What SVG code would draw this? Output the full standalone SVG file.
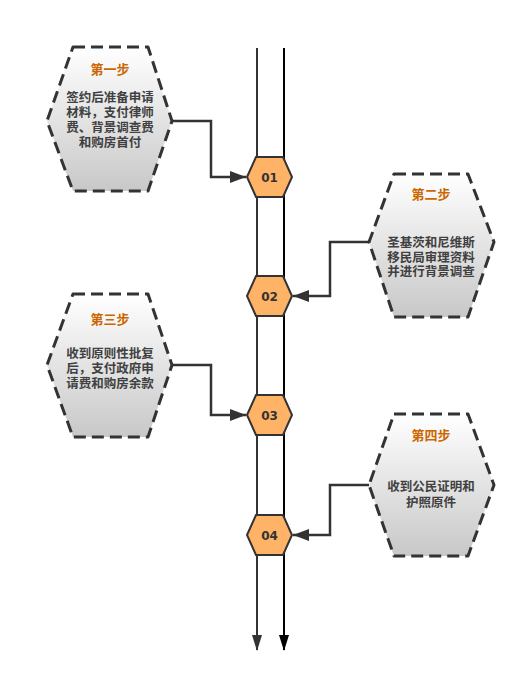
<svg xmlns="http://www.w3.org/2000/svg" width="527" height="679" viewBox="0 0 527 679">
<defs>
<linearGradient id="g" x1="0" y1="0" x2="0" y2="1">
<stop offset="0" stop-color="#ffffff"/>
<stop offset="1" stop-color="#c8c8c8"/>
</linearGradient>
<marker id="ah" markerWidth="16" markerHeight="12" refX="16" refY="6" orient="auto" markerUnits="userSpaceOnUse">
<path d="M0,0 L16,6 L0,12 Z" fill="#333"/>
</marker>
</defs>
<style>
.box{fill:url(#g);stroke:#333;stroke-width:3;stroke-dasharray:12 6;stroke-linejoin:round}
.hex{fill:#ffb366;stroke:#333;stroke-width:2}
.title{font-family:"Noto Sans CJK SC","Noto Sans",sans-serif;font-weight:bold;font-size:13px;fill:#cc6600;text-anchor:middle}
.body{font-family:"Noto Sans CJK SC","Noto Sans",sans-serif;font-weight:bold;font-size:12.5px;fill:#404040;text-anchor:middle}
.num{font-family:"DejaVu Sans","Noto Sans",sans-serif;font-weight:bold;font-size:12px;fill:#333;text-anchor:middle}
.con{fill:none;stroke:#333;stroke-width:2.5}
</style>
<g id="connectors">
<line x1="257" y1="48" x2="257" y2="650" stroke="#333" stroke-width="2"/>
<line x1="284" y1="48" x2="284" y2="650" stroke="#000" stroke-width="2"/>
<path d="M252,635 L257,651 L262,635 Z" fill="#333"/>
<path d="M279,635 L284,651 L289,635 Z" fill="#000"/>
<path class="con" d="M172,121 H211 V177 H246" marker-end="url(#ah)"/>
<path class="con" d="M369,242 H330 V296 H293" marker-end="url(#ah)"/>
<path class="con" d="M172,365 H211 V415 H246" marker-end="url(#ah)"/>
<path class="con" d="M369,485 H330 V535 H293" marker-end="url(#ah)"/>
</g>
<g id="step1">
<polygon class="box" points="73,47 148,47 172,121 148,191 73,191 47,121"/>
<text class="title" x="110" y="74">第一步</text>
<text class="body"><tspan x="110" y="102">签约后准备申请</tspan><tspan x="110" y="117">材料，支付律师</tspan><tspan x="110" y="132">费、背景调查费</tspan><tspan x="110" y="147">和购房首付</tspan></text>
</g>
<g id="step2">
<polygon class="box" points="394,174 468,174 494,242 468,317 394,317 369,242"/>
<text class="title" x="431" y="199">第二步</text>
<text class="body"><tspan x="431" y="247">圣基茨和尼维斯</tspan><tspan x="431" y="262">移民局审理资料</tspan><tspan x="431" y="276">并进行背景调查</tspan></text>
</g>
<g id="step3">
<polygon class="box" points="73,294 148,294 172,365 148,437 73,437 47,365"/>
<text class="title" x="110" y="324">第三步</text>
<text class="body"><tspan x="110" y="358">收到原则性批复</tspan><tspan x="110" y="373">后，支付政府申</tspan><tspan x="110" y="388">请费和购房余款</tspan></text>
</g>
<g id="step4">
<polygon class="box" points="394,414 468,414 494,485 468,556 394,556 369,485"/>
<text class="title" x="431" y="440">第四步</text>
<text class="body"><tspan x="431" y="491">收到公民证明和</tspan><tspan x="431" y="507">护照原件</tspan></text>
</g>
<g id="n01">
<polygon class="hex" points="247,177 256,157 283,157 292,177 283,197 256,197"/>
<text class="num" x="269.5" y="182">01</text>
</g>
<g id="n02">
<polygon class="hex" points="247,296 256,276 283,276 292,296 283,316 256,316"/>
<text class="num" x="269.5" y="301">02</text>
</g>
<g id="n03">
<polygon class="hex" points="247,415 256,395 283,395 292,415 283,435 256,435"/>
<text class="num" x="269.5" y="420">03</text>
</g>
<g id="n04">
<polygon class="hex" points="247,535 256,515 283,515 292,535 283,555 256,555"/>
<text class="num" x="269.5" y="540">04</text>
</g>
</svg>
